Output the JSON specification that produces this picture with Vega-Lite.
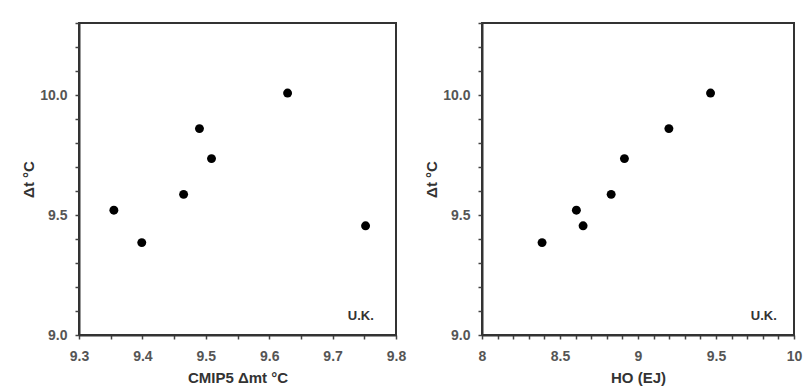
{
  "$schema": "https://vega.github.io/schema/vega-lite/v6.json",
  "background": "white",
  "padding": {"left": 20, "top": 15, "right": 5, "bottom": 2},
  "spacing": 16,
  "datasets": {
    "pts": [
      {"cmip": 9.355, "ho": 8.605, "dt": 9.52},
      {"cmip": 9.399, "ho": 8.385, "dt": 9.385},
      {"cmip": 9.465, "ho": 8.828, "dt": 9.586},
      {"cmip": 9.490, "ho": 9.198, "dt": 9.860},
      {"cmip": 9.509, "ho": 8.913, "dt": 9.735},
      {"cmip": 9.629, "ho": 9.465, "dt": 10.008},
      {"cmip": 9.752, "ho": 8.648, "dt": 9.455}
    ]
  },
  "config": {
    "font": "Liberation Sans",
    "view": {"stroke": "#333333", "strokeWidth": 2},
    "axis": {
      "domainColor": "#333333",
      "domainWidth": 2,
      "tickColor": "#444444",
      "tickWidth": 1.5,
      "tickSize": 4,
      "grid": false,
      "labelFont": "Liberation Sans",
      "labelFontWeight": "bold",
      "labelFontSize": 14,
      "labelColor": "#555555",
      "labelOverlap": false,
      "labelBound": false,
      "labelFlush": false,
      "titleFont": "Liberation Sans",
      "titleFontWeight": "bold",
      "titleFontSize": 15,
      "titleColor": "#333333"
    }
  },
  "hconcat": [
    {
      "width": 317,
      "height": 312,
      "encoding": {
        "x": {
          "field": "cmip", "type": "quantitative",
          "scale": {"domain": [9.3, 9.8], "nice": false, "zero": false},
          "axis": {
            "title": "CMIP5 Δmt °C",
            "values": [9.3, 9.35, 9.4, 9.45, 9.5, 9.55, 9.6, 9.65, 9.7, 9.75, 9.8],
            "labelExpr": "substring(format(datum.value,'.2f'),3,4)=='0' ? format(datum.value,'.1f') : ''",
            "labelOverlap": false,
            "labelPadding": 10,
            "titlePadding": 7
          }
        },
        "y": {
          "field": "dt", "type": "quantitative",
          "scale": {"domain": [9.0, 10.3], "nice": false, "zero": false},
          "axis": {
            "title": "Δt °C",
            "values": [9.0, 9.1, 9.2, 9.3, 9.4, 9.5, 9.6, 9.7, 9.8, 9.9, 10.0, 10.1, 10.2, 10.3],
            "labelExpr": "abs(datum.value*2 - round(datum.value*2)) < 0.001 ? format(datum.value,'.1f') : ''",
            "labelOverlap": false,
            "labelPadding": 8,
            "titlePadding": 3
          }
        }
      },
      "layer": [
        {
          "data": {"name": "pts"},
          "mark": {"type": "circle", "size": 80, "color": "black", "opacity": 1}
        },
        {
          "data": {"values": [{"cmip": 9.765, "dt": 9.079, "t": "U.K."}]},
          "mark": {"type": "text", "align": "right", "baseline": "middle", "fontWeight": "bold", "fontSize": 13, "color": "#333333"},
          "encoding": {"text": {"field": "t"}}
        }
      ]
    },
    {
      "width": 312,
      "height": 312,
      "encoding": {
        "x": {
          "field": "ho", "type": "quantitative",
          "scale": {"domain": [8, 10], "nice": false, "zero": false},
          "axis": {
            "title": "HO (EJ)",
            "values": [8.0, 8.1, 8.2, 8.3, 8.4, 8.5, 8.6, 8.7, 8.8, 8.9, 9.0, 9.1, 9.2, 9.3, 9.4, 9.5, 9.6, 9.7, 9.8, 9.9, 10.0],
            "labelExpr": "abs(datum.value*2 - round(datum.value*2)) < 0.001 ? format(datum.value,'~g') : ''",
            "labelOverlap": false,
            "labelPadding": 10,
            "titlePadding": 7
          }
        },
        "y": {
          "field": "dt", "type": "quantitative",
          "scale": {"domain": [9.0, 10.3], "nice": false, "zero": false},
          "axis": {
            "title": "Δt °C",
            "values": [9.0, 9.1, 9.2, 9.3, 9.4, 9.5, 9.6, 9.7, 9.8, 9.9, 10.0, 10.1, 10.2, 10.3],
            "labelExpr": "abs(datum.value*2 - round(datum.value*2)) < 0.001 ? format(datum.value,'.1f') : ''",
            "labelOverlap": false,
            "labelPadding": 8,
            "titlePadding": 3
          }
        }
      },
      "layer": [
        {
          "data": {"name": "pts"},
          "mark": {"type": "circle", "size": 80, "color": "black", "opacity": 1}
        },
        {
          "data": {"values": [{"ho": 9.89, "dt": 9.079, "t": "U.K."}]},
          "mark": {"type": "text", "align": "right", "baseline": "middle", "fontWeight": "bold", "fontSize": 13, "color": "#333333"},
          "encoding": {"text": {"field": "t"}}
        }
      ]
    }
  ]
}
